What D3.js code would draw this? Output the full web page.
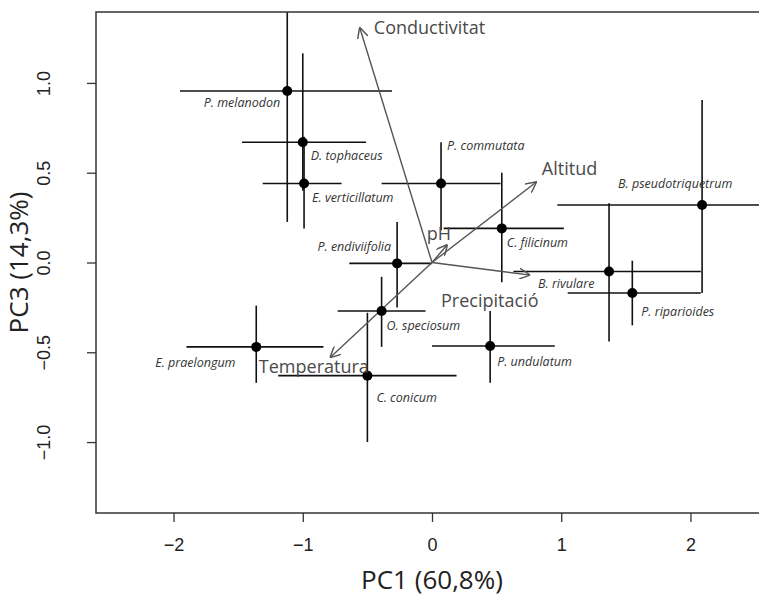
<!DOCTYPE html>
<html>
<head>
  <script src="https://d3js.org/d3.v7.min.js"></script>
  <style>
    body { margin: 0; background: #fff; font-family: "Open Sans", "Noto Sans", sans-serif; }
    .sp { font-style: italic; font-size: 12.5px; fill: #333; }
    .env { font-size: 18px; fill: #4a4a4a; }
    .tick text { font-size: 18px; fill: #222; }
  </style>
</head>
<body>
  <div id="chart"></div>
  <script>
const width = 759;
const height = 601;

// species scores on PC1 / PC3 with their ranges
const species = ["P. melanodon", "D. tophaceus", "E. verticillatum", "P. commutata", "C. filicinum",
  "B. pseudotriquetrum", "B. rivulare", "P. riparioides", "P. endiviifolia", "O. speciosum",
  "E. praelongum", "C. conicum", "P. undulatum"];
const pc1 = [-1.12, -1.00, -0.99, 0.07, 0.54, 2.09, 1.37, 1.55, -0.27, -0.39, -1.36, -0.50, 0.45];
const pc3 = [0.955, 0.67, 0.44, 0.44, 0.19, 0.32, -0.05, -0.17, -0.005, -0.27, -0.47, -0.63, -0.465];
const pc1Min = [-1.95, -1.47, -1.31, -0.39, 0.09, 0.97, 0.63, 1.05, -0.64, -0.73, -1.90, -1.19, 0.00];
const pc1Max = [-0.31, -0.51, -0.70, 0.53, 1.02, 2.70, 2.08, 2.08, 0.00, -0.05, -0.84, 0.19, 0.95];
const pc3Min = [0.226, 0.40, 0.19, 0.18, -0.11, -0.17, -0.44, -0.35, -0.25, -0.47, -0.67, -1.00, -0.67];
const pc3Max = [1.50, 1.165, 0.70, 0.67, 0.50, 0.905, 0.33, 0.01, 0.225, -0.08, -0.24, -0.28, -0.27];
// label offsets in px
const labDx = [-7, 8, 8, 6, 5, -84, -71, 9, -6, 5, -101, 9, 7];
const labDy = [16, 18, 19, -33, 19, -17, 17, 23, -12, 19, 20, 26, 20];

// environmental vectors
const envNames = ["Conductivitat", "Altitud", "pH", "Precipitació", "Temperatura"];
const envX = [-0.56, 0.81, 0.12, 0.76, -0.79];
const envY = [1.31, 0.45, 0.10, -0.07, -0.53];
const envLabX = [-0.45, 0.85, -0.04, 0.07, -1.34];
const envLabY = [1.31, 0.52, 0.16, -0.21, -0.58];

const xTicks = [-2, -1, 0, 1, 2];
const yTicks = [-1.0, -0.5, 0.0, 0.5, 1.0];

const margin = { top: 12, left: 96, bottom: 88, right: -9 };

const svg = d3.select("#chart").append("svg")
  .attr("width", width)
  .attr("height", height);

const x = d3.scaleLinear().domain([-2.6, 2.6]).range([margin.left, width - margin.right]);
const y = d3.scaleLinear().domain([-1.395, 1.395]).range([height - margin.bottom, margin.top]);

svg.append("clipPath").attr("id", "clip")
  .append("rect")
  .attr("x", x(-2.6)).attr("y", y(1.395))
  .attr("width", x(2.6) - x(-2.6)).attr("height", y(-1.395) - y(1.395));

svg.append("defs").append("marker")
  .attr("id", "head")
  .attr("viewBox", "0 0 10 10")
  .attr("refX", 10).attr("refY", 5)
  .attr("markerWidth", 11).attr("markerHeight", 11)
  .attr("markerUnits", "userSpaceOnUse")
  .attr("orient", "auto")
  .append("path")
  .attr("d", "M0,0L10,5L0,10")
  .attr("fill", "none")
  .attr("stroke", "#555")
  .attr("stroke-width", 1.3);

const plot = svg.append("g").attr("clip-path", "url(#clip)");

// error bars
plot.append("g").selectAll("line")
  .data(species)
  .join("line")
  .attr("x1", (d, i) => x(pc1Min[i]))
  .attr("x2", (d, i) => x(pc1Max[i]))
  .attr("y1", (d, i) => y(pc3[i]))
  .attr("y2", (d, i) => y(pc3[i]))
  .attr("stroke", "#111").attr("stroke-width", 1.6);

plot.append("g").selectAll("line")
  .data(species)
  .join("line")
  .attr("x1", (d, i) => x(pc1[i]))
  .attr("x2", (d, i) => x(pc1[i]))
  .attr("y1", (d, i) => y(pc3Min[i]))
  .attr("y2", (d, i) => y(pc3Max[i]))
  .attr("stroke", "#111").attr("stroke-width", 1.6);

// arrows
plot.append("g").selectAll("line")
  .data(envNames)
  .join("line")
  .attr("x1", x(0)).attr("y1", y(0))
  .attr("x2", (d, i) => x(envX[i]))
  .attr("y2", (d, i) => y(envY[i]))
  .attr("stroke", "#555").attr("stroke-width", 1.4)
  .attr("marker-end", "url(#head)");

plot.append("g").selectAll("circle")
  .data(species)
  .join("circle")
  .attr("cx", (d, i) => x(pc1[i]))
  .attr("cy", (d, i) => y(pc3[i]))
  .attr("r", 5)
  .attr("fill", "#000");

svg.append("g").selectAll("text")
  .data(species)
  .join("text")
  .attr("class", "sp")
  .attr("x", (d, i) => x(pc1[i]) + labDx[i])
  .attr("y", (d, i) => y(pc3[i]) + labDy[i])
  .attr("text-anchor", (d, i) => (i == 0 || i == 8) ? "end" : "start")
  .text(d => d);

svg.append("g").selectAll("text")
  .data(envNames)
  .join("text")
  .attr("class", "env")
  .attr("x", (d, i) => x(envLabX[i]))
  .attr("y", (d, i) => y(envLabY[i]))
  .attr("dy", "0.35em")
  .text(d => d);

// box
svg.append("rect")
  .attr("x", x(-2.6)).attr("y", y(1.395))
  .attr("width", x(2.6) - x(-2.6)).attr("height", y(-1.395) - y(1.395))
  .attr("fill", "none").attr("stroke", "#333").attr("stroke-width", 1.5);

function xAxis(g) {
  g.attr("transform", `translate(0,${y(-1.395)})`)
    .call(d3.axisBottom(x).tickValues(xTicks).tickSize(9).tickSizeOuter(0)
      .tickFormat(d => d3.format("d")(d).replace("-", "\u2212")))
    .call(g => g.select(".domain").remove())
    .call(g => g.selectAll("line").attr("stroke", "#333").attr("stroke-width", 1.3))
    .call(g => g.selectAll("text").attr("dy", "1.45em"));
}

// y labels run along the axis (rotated), like R's default
function yAxis(g) {
  g.attr("transform", `translate(${x(-2.6)},0)`)
    .call(d3.axisLeft(y).tickValues(yTicks).tickSize(9).tickSizeOuter(0)
      .tickFormat(d => d3.format(".1f")(d).replace("-", "\u2212")))
    .call(g => g.select(".domain").remove())
    .call(g => g.selectAll("line").attr("stroke", "#333").attr("stroke-width", 1.3))
    .call(g => g.selectAll("text")
      .attr("x", 0).attr("y", -52).attr("dy", "0.35em")
      .attr("text-anchor", "middle")
      .attr("transform", "rotate(-90)"));
}

svg.append("g").call(xAxis);
svg.append("g").call(yAxis);

svg.append("text")
  .attr("x", x(0)).attr("y", 589)
  .attr("text-anchor", "middle")
  .attr("font-size", 26).attr("fill", "#222")
  .text("PC1 (60,8%)");

svg.append("text")
  .attr("transform", `translate(28,${y(0)}) rotate(-90)`)
  .attr("text-anchor", "middle")
  .attr("font-size", 26).attr("fill", "#222")
  .text("PC3 (14,3%)");
  </script>
</body>
</html>
